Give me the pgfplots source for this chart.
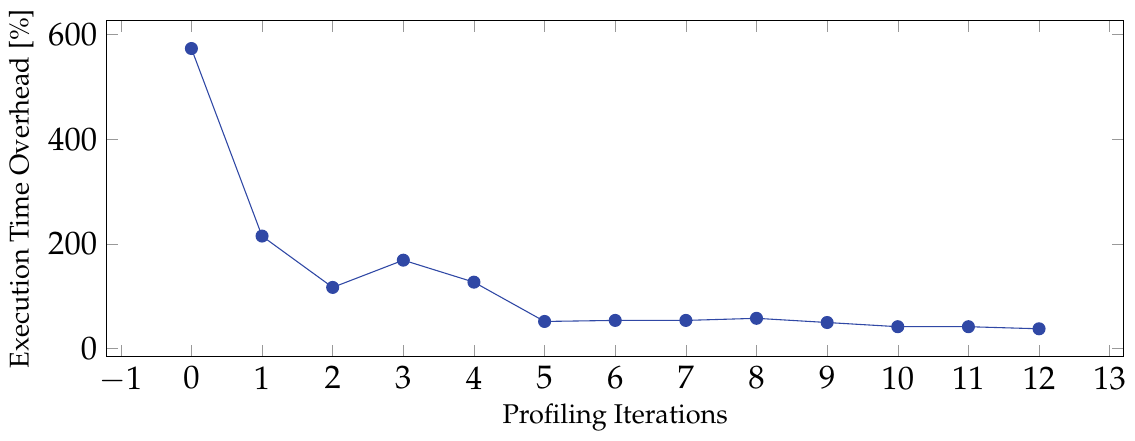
\documentclass[border=0pt]{standalone}
\usepackage[T1]{fontenc}
\usepackage{mathpazo}
\usepackage{pgfplots}
\pgfplotsset{compat=1.18}
\definecolor{ptblue}{RGB}{48,72,165}
\begin{document}
\begin{tikzpicture}
\begin{axis}[
  scale only axis,
  width=375pt, height=124pt,
  xmin=-1.2, xmax=13.2,
  ymin=-15.5, ymax=626.5,
  xtick={-1,0,...,13},
  ytick={0,200,400,600},
  tick label style={font=\large},
  major tick style={gray!80},
  xlabel={Profiling Iterations},
  ylabel={Execution Time Overhead [\%]},
  xlabel style={yshift=2.5pt},
  ylabel style={yshift=-1.5pt},
]
\addplot[color=ptblue, mark=*, mark size=2.2pt, line width=0.4pt, mark options={fill=ptblue, draw=ptblue}] coordinates {
(0,573) (1,215) (2,117) (3,169) (4,127) (5,52) (6,54) (7,54) (8,58) (9,50) (10,42) (11,42) (12,38)
};
\end{axis}
\end{tikzpicture}
\end{document}
